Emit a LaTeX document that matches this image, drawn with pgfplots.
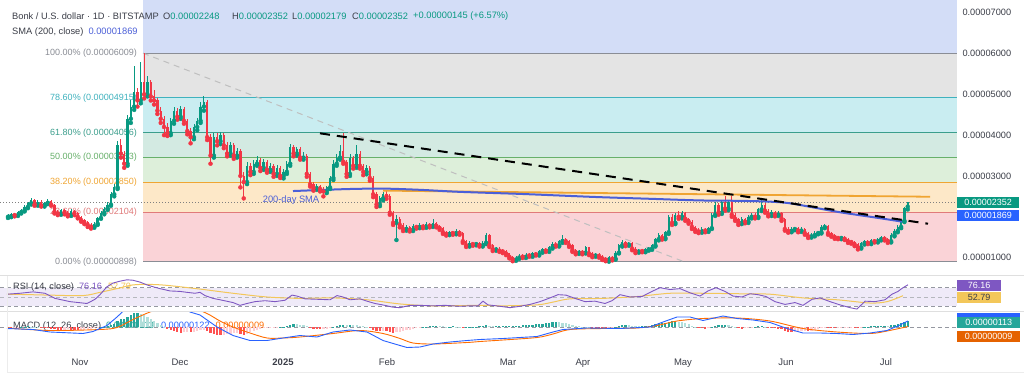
\documentclass[border=0pt]{standalone}
\usepackage{pgfplots}
\usepackage{pgfplotstable}
\pgfplotsset{compat=1.18}
\usepackage{fontspec}
\setmainfont{Liberation Sans}
\definecolor{upc}{HTML}{089981}
\definecolor{dnc}{HTML}{F23645}
\definecolor{fz0}{HTML}{D3DDF7}
\definecolor{fz1}{HTML}{E4E4E4}
\definecolor{fz2}{HTML}{C9EDF1}
\definecolor{fz3}{HTML}{D3EAE2}
\definecolor{fz4}{HTML}{DDEFDA}
\definecolor{fz5}{HTML}{FDE8C8}
\definecolor{fz6}{HTML}{FAD3D7}
\definecolor{fl100}{HTML}{8A8D95}
\definecolor{fl786}{HTML}{3FB2BE}
\definecolor{fl618}{HTML}{3B9E8C}
\definecolor{fl50}{HTML}{67B06A}
\definecolor{fl382}{HTML}{F0A532}
\definecolor{fl236}{HTML}{E07A7A}
\definecolor{smac}{HTML}{4B5FD8}
\definecolor{rsip}{HTML}{7E57C2}
\definecolor{rsiy}{HTML}{F3C75A}
\definecolor{rsiband}{HTML}{EFEAF8}
\definecolor{macdb}{HTML}{2962FF}
\definecolor{macdo}{HTML}{FF6D00}
\definecolor{h0}{HTML}{26A69A}
\definecolor{h1}{HTML}{B2DFDB}
\definecolor{h2}{HTML}{FF5252}
\definecolor{h3}{HTML}{FFCDD2}
\definecolor{txt}{HTML}{3B3E48}
\definecolor{gridg}{HTML}{9598A1}
\begin{document}
\pgfplotstableread{
i o h l c
0 2.00 2.06 1.97 2.02
1 2.02 2.10 1.99 2.07
2 2.07 2.10 2.01 2.04
3 2.04 2.14 2.02 2.11
4 2.11 2.20 2.08 2.16
5 2.16 2.28 2.13 2.24
6 2.24 2.37 2.21 2.33
7 2.33 2.45 2.30 2.41
8 2.41 2.44 2.27 2.30
9 2.30 2.40 2.27 2.37
10 2.37 2.40 2.25 2.28
11 2.28 2.37 2.25 2.34
12 2.34 2.44 2.31 2.39
13 2.39 2.42 2.27 2.30
14 2.30 2.32 2.08 2.12
15 2.12 2.16 2.04 2.08
16 2.08 2.20 2.05 2.17
17 2.17 2.20 2.06 2.10
18 2.10 2.14 2.01 2.05
19 2.05 2.18 2.02 2.14
20 2.14 2.17 2.04 2.08
21 2.08 2.11 1.96 2.00
22 2.00 2.03 1.88 1.92
23 1.92 1.95 1.82 1.86
24 1.86 1.89 1.75 1.80
25 1.80 1.84 1.71 1.76
26 1.76 1.86 1.73 1.83
27 1.83 2.00 1.80 1.97
28 1.97 2.14 1.95 2.10
29 2.10 2.24 2.06 2.20
30 2.20 2.35 2.17 2.30
31 2.30 2.60 2.27 2.55
32 2.55 2.80 2.50 2.72
33 2.72 3.85 2.68 3.75
34 3.75 3.90 3.45 3.55
35 3.55 3.62 3.20 3.30
36 3.30 4.50 3.25 4.40
37 4.40 4.85 4.30 4.70
38 4.70 5.70 4.62 5.05
39 5.05 5.15 4.70 4.85
40 4.85 5.80 4.78 5.30
41 5.30 6.009 4.90 5.00
42 5.00 5.45 4.95 5.30
43 5.30 5.35 4.85 4.95
44 4.95 5.10 4.75 4.85
45 4.85 4.92 4.52 4.60
46 4.60 4.70 4.30 4.40
47 4.40 4.48 4.00 4.20
48 4.20 4.30 3.98 4.05
49 4.05 4.42 4.00 4.35
50 4.35 4.70 4.28 4.60
51 4.60 4.66 4.38 4.45
52 4.45 4.72 4.40 4.65
53 4.65 4.70 4.28 4.35
54 4.35 4.40 4.02 4.10
55 4.10 4.18 3.80 3.95
56 3.95 4.28 3.90 4.20
57 4.20 4.42 4.12 4.35
58 4.35 4.80 4.30 4.70
59 4.70 4.95 4.60 4.80
60 4.80 4.85 3.88 3.95
61 3.95 4.02 3.30 3.50
62 3.50 4.05 3.45 3.95
63 3.95 4.05 3.75 3.85
64 3.85 4.08 3.78 4.00
65 4.00 4.05 3.68 3.75
66 3.75 3.82 3.48 3.55
67 3.55 3.82 3.50 3.75
68 3.75 3.80 3.42 3.50
69 3.50 3.68 3.45 3.60
70 3.60 3.65 2.72 3.00
71 3.00 3.10 2.45 2.85
72 2.85 3.35 2.80 3.25
73 3.25 3.32 3.02 3.10
74 3.10 3.38 3.05 3.30
75 3.30 3.48 3.25 3.40
76 3.40 3.45 3.12 3.20
77 3.20 3.42 3.15 3.35
78 3.35 3.40 3.08 3.15
79 3.15 3.32 3.10 3.25
80 3.25 3.30 2.98 3.05
81 3.05 3.26 3.00 3.20
82 3.20 3.25 2.95 3.00
83 3.00 3.16 2.94 3.10
84 3.10 3.36 3.05 3.30
85 3.30 3.78 3.25 3.70
86 3.70 3.75 3.48 3.55
87 3.55 3.72 3.50 3.65
88 3.65 3.70 3.40 3.45
89 3.45 3.58 3.40 3.50
90 3.50 3.55 2.98 3.05
91 3.05 3.10 2.74 2.80
92 2.80 2.86 2.64 2.70
93 2.70 2.80 2.66 2.75
94 2.75 2.78 2.62 2.68
95 2.68 2.72 2.50 2.62
96 2.62 2.76 2.58 2.72
97 2.72 3.00 2.68 2.95
98 2.95 3.38 2.90 3.30
99 3.30 3.55 3.25 3.45
100 3.45 3.75 3.40 3.60
101 3.60 4.05 3.30 3.35
102 3.35 3.40 2.98 3.05
103 3.05 3.55 3.00 3.45
104 3.45 3.50 3.18 3.25
105 3.25 3.75 3.20 3.55
106 3.55 3.60 3.18 3.25
107 3.25 3.30 3.02 3.10
108 3.10 3.26 3.04 3.20
109 3.20 3.24 2.88 2.95
110 2.95 3.00 2.48 2.55
111 2.55 2.60 2.24 2.30
112 2.30 2.50 2.26 2.45
113 2.45 2.60 2.40 2.55
114 2.55 2.63 2.44 2.50
115 2.50 2.55 2.05 2.10
116 2.10 2.15 1.80 1.85
117 1.85 2.05 1.43 1.95
118 1.95 2.00 1.74 1.80
119 1.80 1.84 1.65 1.70
120 1.70 1.79 1.66 1.75
121 1.75 1.78 1.64 1.68
122 1.68 1.82 1.65 1.78
123 1.78 1.81 1.71 1.75
124 1.75 1.84 1.72 1.80
125 1.80 1.83 1.72 1.76
126 1.76 1.86 1.73 1.82
127 1.82 1.85 1.74 1.78
128 1.78 1.95 1.75 1.85
129 1.85 1.88 1.74 1.78
130 1.78 1.81 1.68 1.72
131 1.72 1.75 1.58 1.62
132 1.62 1.66 1.54 1.58
133 1.58 1.66 1.55 1.62
134 1.62 1.65 1.56 1.60
135 1.60 1.69 1.57 1.65
136 1.65 1.68 1.56 1.60
137 1.60 1.63 1.36 1.40
138 1.40 1.44 1.26 1.30
139 1.30 1.40 1.27 1.36
140 1.36 1.39 1.29 1.33
141 1.33 1.38 1.30 1.35
142 1.35 1.37 1.27 1.30
143 1.30 1.40 1.27 1.36
144 1.36 1.60 1.33 1.55
145 1.55 1.57 1.26 1.30
146 1.30 1.33 1.16 1.20
147 1.20 1.26 1.17 1.22
148 1.22 1.25 1.14 1.17
149 1.17 1.20 1.11 1.15
150 1.15 1.18 1.06 1.10
151 1.10 1.12 0.98 1.02
152 1.02 1.05 0.91 0.95
153 0.95 1.03 0.92 1.00
154 1.00 1.08 0.97 1.05
155 1.05 1.08 0.99 1.02
156 1.02 1.10 0.99 1.07
157 1.07 1.10 1.02 1.05
158 1.05 1.13 1.02 1.10
159 1.10 1.13 1.05 1.08
160 1.08 1.18 1.05 1.15
161 1.15 1.24 1.12 1.20
162 1.20 1.23 1.14 1.17
163 1.17 1.29 1.14 1.25
164 1.25 1.37 1.22 1.33
165 1.33 1.37 1.27 1.30
166 1.30 1.44 1.27 1.40
167 1.40 1.55 1.36 1.45
168 1.45 1.48 1.36 1.40
169 1.40 1.43 1.26 1.30
170 1.30 1.33 1.14 1.18
171 1.18 1.22 1.08 1.12
172 1.12 1.19 1.09 1.15
173 1.15 1.18 1.08 1.12
174 1.12 1.29 1.10 1.25
175 1.25 1.27 1.06 1.10
176 1.10 1.13 1.01 1.05
177 1.05 1.12 1.02 1.08
178 1.08 1.11 1.00 1.04
179 1.04 1.07 0.94 0.98
180 0.98 1.01 0.91 0.95
181 0.95 1.05 0.90 1.02
182 1.02 1.05 0.93 0.97
183 0.97 1.15 0.95 1.12
184 1.12 1.34 1.10 1.30
185 1.30 1.42 1.27 1.38
186 1.38 1.41 1.28 1.32
187 1.32 1.39 1.29 1.35
188 1.35 1.37 1.18 1.22
189 1.22 1.25 1.11 1.15
190 1.15 1.22 1.12 1.18
191 1.18 1.21 1.13 1.16
192 1.16 1.24 1.13 1.20
193 1.20 1.26 1.17 1.22
194 1.22 1.34 1.19 1.30
195 1.30 1.49 1.27 1.45
196 1.45 1.60 1.42 1.55
197 1.55 1.58 1.44 1.48
198 1.48 1.66 1.45 1.62
199 1.62 2.05 1.58 2.00
200 2.00 2.06 1.80 1.85
201 1.85 2.10 1.82 2.05
202 2.05 2.15 1.95 2.00
203 2.00 2.13 1.96 2.08
204 2.08 2.11 1.90 1.95
205 1.95 1.98 1.83 1.88
206 1.88 1.91 1.70 1.75
207 1.75 1.78 1.63 1.68
208 1.68 1.72 1.60 1.64
209 1.64 1.74 1.61 1.70
210 1.70 1.73 1.62 1.66
211 1.66 1.76 1.63 1.72
212 1.72 2.10 1.70 2.05
213 2.05 2.36 2.02 2.30
214 2.30 2.33 2.05 2.10
215 2.10 2.40 2.07 2.35
216 2.35 2.52 2.15 2.20
217 2.20 2.42 2.16 2.35
218 2.35 2.50 2.00 2.05
219 2.05 2.09 1.90 1.95
220 1.95 1.98 1.80 1.85
221 1.85 1.99 1.82 1.95
222 1.95 1.98 1.84 1.88
223 1.88 2.04 1.85 2.00
224 2.00 2.09 1.96 2.05
225 2.05 2.08 1.96 2.00
226 2.00 2.22 1.97 2.18
227 2.18 2.46 2.14 2.30
228 2.30 2.33 2.10 2.15
229 2.15 2.18 2.01 2.05
230 2.05 2.16 2.02 2.12
231 2.12 2.15 2.01 2.05
232 2.05 2.14 2.02 2.10
233 2.10 2.12 1.90 1.95
234 1.95 1.98 1.66 1.70
235 1.70 1.74 1.61 1.65
236 1.65 1.74 1.62 1.70
237 1.70 1.76 1.67 1.72
238 1.72 1.75 1.62 1.66
239 1.66 1.74 1.63 1.70
240 1.70 1.72 1.56 1.60
241 1.60 1.63 1.48 1.52
242 1.52 1.59 1.49 1.55
243 1.55 1.64 1.52 1.60
244 1.60 1.66 1.57 1.62
245 1.62 1.79 1.59 1.75
246 1.75 1.83 1.72 1.78
247 1.78 1.80 1.56 1.60
248 1.60 1.63 1.51 1.55
249 1.55 1.58 1.46 1.50
250 1.50 1.53 1.45 1.48
251 1.48 1.54 1.45 1.50
252 1.50 1.53 1.43 1.46
253 1.46 1.49 1.36 1.40
254 1.40 1.43 1.34 1.38
255 1.38 1.41 1.28 1.32
256 1.32 1.35 1.20 1.25
257 1.25 1.38 1.22 1.35
258 1.35 1.44 1.32 1.40
259 1.40 1.43 1.33 1.36
260 1.36 1.46 1.33 1.42
261 1.42 1.45 1.37 1.40
262 1.40 1.49 1.37 1.45
263 1.45 1.54 1.42 1.50
264 1.50 1.53 1.42 1.46
265 1.46 1.49 1.36 1.40
266 1.40 1.59 1.37 1.55
267 1.55 1.70 1.52 1.65
268 1.65 1.80 1.62 1.75
269 1.75 1.95 1.72 1.90
270 1.90 2.25 1.87 2.207
271 2.248 2.352 2.179 2.352
}\candles
\pgfplotstableread{
i v k
0 -0.10 2
1 -0.15 2
2 -0.10 3
3 -0.05 3
4 0.05 0
5 0.10 0
6 0.15 0
7 0.10 1
8 0.05 1
9 0.02 1
10 -0.05 2
11 -0.10 2
12 -0.20 2
13 -0.30 2
14 -0.40 2
15 -0.50 2
16 -0.55 2
17 -0.50 3
18 -0.45 3
19 -0.50 2
20 -0.60 2
21 -0.65 2
22 -0.60 3
23 -0.50 3
24 -0.40 3
25 -0.30 3
26 -0.20 3
27 -0.10 3
28 0.02 0
29 0.10 0
30 0.20 0
31 0.40 0
32 0.70 0
33 1.30 0
34 1.60 0
35 1.60 0
36 2.10 0
37 2.50 0
38 2.80 0
39 2.90 0
40 2.70 1
41 2.40 1
42 2.10 1
43 1.70 1
44 1.30 1
45 0.90 1
46 0.50 1
47 0.10 1
48 -0.30 2
49 -0.60 2
50 -0.80 2
51 -1.00 2
52 -1.10 2
53 -1.05 3
54 -1.00 3
55 -1.05 2
56 -0.90 3
57 -0.80 3
58 -0.60 3
59 -0.50 3
60 -0.80 2
61 -1.20 2
62 -1.40 2
63 -1.50 2
64 -1.60 2
65 -1.50 3
66 -1.40 3
67 -1.30 3
68 -1.20 3
69 -1.10 3
70 -1.30 2
71 -1.50 2
72 -1.30 3
73 -1.00 3
74 -0.70 3
75 -0.50 3
76 -0.35 3
77 -0.25 3
78 -0.20 3
79 -0.15 3
80 -0.10 3
81 -0.05 3
82 0.02 0
83 0.10 0
84 0.30 0
85 0.50 0
86 0.60 0
87 0.55 1
88 0.50 1
89 0.40 1
90 0.20 1
91 -0.10 2
92 -0.30 2
93 -0.40 2
94 -0.45 2
95 -0.40 3
96 -0.35 3
97 -0.20 3
98 0.02 0
99 0.20 0
100 0.40 0
101 0.50 0
102 0.45 1
103 0.50 0
104 0.45 1
105 0.40 1
106 0.30 1
107 0.15 1
108 0.02 1
109 -0.20 2
110 -0.50 2
111 -0.70 2
112 -0.75 2
113 -0.70 3
114 -0.80 2
115 -1.00 2
116 -1.10 2
117 -1.00 3
118 -0.90 3
119 -0.80 3
120 -0.60 3
121 -0.50 3
122 -0.35 3
123 -0.20 3
124 -0.10 3
125 0.02 0
126 0.10 0
127 0.20 0
128 0.25 0
129 0.25 0
130 0.20 1
131 0.15 1
132 0.10 1
133 0.10 0
134 0.12 0
135 0.10 1
136 0.05 1
137 -0.05 2
138 0.02 0
139 0.05 0
140 0.10 0
141 0.10 0
142 0.15 0
143 0.25 0
144 0.35 0
145 0.20 1
146 0.15 1
147 0.15 0
148 0.15 0
149 0.15 0
150 0.20 0
151 0.20 0
152 0.20 0
153 0.25 0
154 0.30 0
155 0.35 0
156 0.40 0
157 0.45 0
158 0.50 0
159 0.55 0
160 0.60 0
161 0.70 0
162 0.80 0
163 0.90 0
164 1.00 0
165 1.00 0
166 0.95 1
167 0.90 1
168 0.80 1
169 0.60 1
170 0.40 1
171 0.25 1
172 0.15 1
173 0.10 1
174 0.05 1
175 0.02 1
176 -0.05 2
177 -0.10 2
178 -0.15 2
179 -0.20 2
180 -0.25 2
181 -0.20 3
182 -0.10 3
183 0.05 0
184 0.25 0
185 0.40 0
186 0.45 0
187 0.40 1
188 0.30 1
189 0.20 1
190 0.15 1
191 0.15 0
192 0.20 0
193 0.30 0
194 0.45 0
195 0.60 0
196 0.75 0
197 0.80 0
198 0.90 0
199 1.10 0
200 1.15 0
201 1.20 0
202 1.10 1
203 1.00 1
204 0.80 1
205 0.55 1
206 0.30 1
207 0.05 1
208 -0.15 2
209 -0.25 2
210 -0.30 2
211 -0.20 3
212 0.02 0
213 0.25 0
214 0.35 0
215 0.45 0
216 0.45 0
217 0.40 1
218 0.20 1
219 0.02 1
220 -0.20 2
221 -0.30 2
222 -0.25 3
223 -0.15 3
224 -0.05 3
225 0.05 0
226 0.15 0
227 0.20 0
228 0.10 1
229 -0.05 2
230 -0.15 2
231 -0.20 2
232 -0.30 2
233 -0.45 2
234 -0.70 2
235 -0.90 2
236 -1.00 2
237 -0.95 3
238 -0.90 3
239 -0.85 3
240 -0.80 3
241 -0.80 2
242 -0.70 3
243 -0.55 3
244 -0.40 3
245 -0.20 3
246 -0.10 3
247 -0.15 2
248 -0.20 2
249 -0.20 2
250 -0.15 3
251 -0.10 3
252 -0.10 3
253 -0.10 3
254 -0.10 3
255 -0.15 2
256 -0.15 2
257 -0.05 3
258 0.05 0
259 0.10 0
260 0.15 0
261 0.20 0
262 0.25 0
263 0.30 0
264 0.30 0
265 0.25 1
266 0.40 0
267 0.50 0
268 0.60 0
269 0.80 0
270 0.95 0
271 1.13 0
}\hist
\begin{tikzpicture}[x=1pt,y=1pt]
\path[use as bounding box] (0pt,0pt) rectangle (1024pt,-377pt);
\fill[white] (0pt,0pt) rectangle (1024pt,-377pt);
% ================= MAIN PRICE PANEL =================
\begin{axis}[at={(0pt,0pt)}, anchor=north west, scale only axis,
  width=957pt, height=268pt, xmin=0, xmax=957, ymin=0.744, ymax=7.312,
  axis line style={draw=none}, tick style={draw=none}, xtick=\empty,
  ytick={1,2,3,4,5,6,7},
  yticklabels={0.00001000,0.00002000,0.00003000,0.00004000,0.00005000,0.00006000,0.00007000},
  yticklabel pos=right,
  yticklabel style={font=\fontsize{9.2}{10}\selectfont, text=txt, anchor=west, xshift=2pt},
  clip=true]
% fib zones
\addplot[fill=fz0, draw=none] coordinates {(143,6.009) (957,6.009) (957,7.312) (143,7.312)} -- cycle;
\addplot[fill=fz1, draw=none] coordinates {(143,4.915) (957,4.915) (957,6.009) (143,6.009)} -- cycle;
\addplot[fill=fz2, draw=none] coordinates {(143,4.056) (957,4.056) (957,4.915) (143,4.915)} -- cycle;
\addplot[fill=fz3, draw=none] coordinates {(143,3.4535) (957,3.4535) (957,4.056) (143,4.056)} -- cycle;
\addplot[fill=fz4, draw=none] coordinates {(143,2.850) (957,2.850) (957,3.4535) (143,3.4535)} -- cycle;
\addplot[fill=fz5, draw=none] coordinates {(143,2.104) (957,2.104) (957,2.850) (143,2.850)} -- cycle;
\addplot[fill=fz6, draw=none] coordinates {(143,0.898) (957,0.898) (957,2.104) (143,2.104)} -- cycle;
% fib lines
\addplot[fl100, line width=1pt] coordinates {(143,6.009) (957,6.009)};
\addplot[fl786, line width=1pt] coordinates {(143,4.915) (957,4.915)};
\addplot[fl618, line width=1pt] coordinates {(143,4.056) (957,4.056)};
\addplot[fl50, line width=1pt] coordinates {(143,3.4535) (957,3.4535)};
\addplot[fl382, line width=1pt] coordinates {(143,2.850) (957,2.850)};
\addplot[fl236, line width=1pt] coordinates {(143,2.104) (957,2.104)};
\addplot[fl100, line width=1pt] coordinates {(143,0.898) (957,0.898)};
% fib labels
\begin{scope}[every node/.style={anchor=east, font=\fontsize{9}{10}\selectfont, inner sep=0pt}]
\node[text=fl100] at (axis cs:137,6.009) {100.00\% (0.00006009)};
\node[text=fl786] at (axis cs:137,4.915) {78.60\% (0.00004915)};
\node[text=fl618] at (axis cs:137,4.056) {61.80\% (0.00004056)};
\node[text=fl50] at (axis cs:137,3.4535) {50.00\% (0.00003453)};
\node[text=fl382] at (axis cs:137,2.850) {38.20\% (0.00002850)};
\node[text=fl236] at (axis cs:137,2.104) {23.60\% (0.00002104)};
\node[text=fl100] at (axis cs:137,0.898) {0.00\% (0.00000898)};
\end{scope}
% current price dotted line
\addplot[gray, line width=0.6pt, dash pattern=on 1pt off 2pt] coordinates {(0,2.352) (957,2.352)};
% fib trend diagonal
\addplot[gray!50, line width=1pt, dash pattern=on 6pt off 5pt] coordinates {(143,6.009) (684,0.898)};
% candles: wicks
\addplot[color=upc, only marks, mark=none,
  restrict expr to domain={\thisrow{c}-\thisrow{o}}{0:100},
  error bars/y dir=plus, error bars/y explicit, error bars/error mark=none,
  error bars/error bar style={line width=0.8pt}]
  table[x expr=8+3.32*\thisrow{i}, y=l, y error plus expr={\thisrow{h}-\thisrow{l}}] {\candles};
\addplot[color=dnc, only marks, mark=none,
  restrict expr to domain={\thisrow{o}-\thisrow{c}}{0.0001:100},
  error bars/y dir=plus, error bars/y explicit, error bars/error mark=none,
  error bars/error bar style={line width=0.8pt}]
  table[x expr=8+3.32*\thisrow{i}, y=l, y error plus expr={\thisrow{h}-\thisrow{l}}] {\candles};
% candles: bodies
\addplot[color=upc, only marks, mark=none,
  restrict expr to domain={\thisrow{c}-\thisrow{o}}{0:100},
  error bars/y dir=plus, error bars/y explicit, error bars/error mark=none,
  error bars/error bar style={line width=2.3pt}]
  table[x expr=8+3.32*\thisrow{i}, y expr={min(\thisrow{o},\thisrow{c})}, y error plus expr={max(abs(\thisrow{c}-\thisrow{o}),0.015)}] {\candles};
\addplot[color=dnc, only marks, mark=none,
  restrict expr to domain={\thisrow{o}-\thisrow{c}}{0.0001:100},
  error bars/y dir=plus, error bars/y explicit, error bars/error mark=none,
  error bars/error bar style={line width=2.3pt}]
  table[x expr=8+3.32*\thisrow{i}, y expr={min(\thisrow{o},\thisrow{c})}, y error plus expr={max(abs(\thisrow{c}-\thisrow{o}),0.015)}] {\candles};
% orange resistance line
\addplot[color=fl382, line width=1.8pt] coordinates {(383,2.64) (930,2.49)};
% 200-day SMA
\addplot[color=smac, line width=2pt, smooth] coordinates {
(293,2.63) (320,2.655) (350,2.68) (383,2.69) (420,2.66) (460,2.61) (520,2.56) (560,2.52)
(600,2.48) (650,2.44) (700,2.40) (740,2.39) (770,2.37) (790,2.33) (815,2.22) (840,2.11)
(873,1.99) (905,1.87)};
% black dashed trend line
\addplot[black, line width=2pt, dash pattern=on 10pt off 7pt] coordinates {(320,4.045) (928,1.829)};
\node[text=smac, font=\fontsize{9.3}{10}\selectfont] at (axis cs:291,2.40) {200-day SMA};
\end{axis}
% ================= RSI PANEL =================
\begin{axis}[at={(0pt,-276.3pt)}, anchor=north west, scale only axis,
  width=957pt, height=35pt, xmin=0, xmax=957, ymin=19.2, ymax=94.5,
  axis line style={draw=none}, xtick=\empty, ytick=\empty, clip=true]
\addplot[fill=rsiband, draw=none] coordinates {(0,30) (957,30) (957,70) (0,70)} -- cycle;
\addplot[gridg, line width=0.8pt, dash pattern=on 4pt off 3pt] coordinates {(0,70) (957,70)};
\addplot[gridg!70, line width=0.8pt, dash pattern=on 4pt off 3pt] coordinates {(0,50) (957,50)};
\addplot[gridg, line width=0.8pt, dash pattern=on 4pt off 3pt] coordinates {(0,30) (957,30)};
\node[anchor=west, inner sep=0pt, font=\fontsize{9.2}{10}\selectfont] at (axis cs:13,71.5)
  {{\color{txt}RSI (14, close)}\hspace{5pt}{\color{rsip}76.16}\hspace{6pt}{\color{rsiy}52.79}};
\addplot[color=rsiy, line width=1pt, smooth] coordinates {
(7,56) (30,55) (50,54) (83,53) (100,60) (117,68) (133,76) (150,77) (167,75) (200,67)
(233,58) (267,50) (300,47) (333,48) (367,44) (400,35) (433,31) (480,32) (503,31)
(537,33) (553,39) (570,46) (603,47) (637,51) (670,58) (703,58) (737,57) (770,56)
(803,48) (837,44) (870,37) (887,40) (903,52.79)};
\addplot[color=rsip, line width=0.9pt] coordinates {
(7,56) (20,58) (33,61) (45,58) (55,47) (70,40) (87,36) (95,45) (100,55) (107,72)
(113,80) (120,84) (127,87) (133,86) (140,82) (147,76) (153,72) (160,68) (170,63)
(180,62) (187,60) (195,58) (200,60) (205,53) (213,47) (220,44) (233,38) (240,32)
(247,36) (255,40) (265,42) (275,40) (285,43) (292,54) (297,52) (305,46) (318,45)
(330,44) (337,53) (343,50) (350,44) (360,46) (367,41) (375,36) (385,32) (393,28)
(400,27) (410,32) (420,32) (433,31) (445,32) (460,30) (470,31) (478,31) (483,41)
(488,33) (500,30) (510,27) (520,30) (530,34) (540,40) (550,48) (558,55) (566,54)
(575,47) (585,40) (595,41) (605,36) (612,42) (620,55) (630,50) (642,51) (652,62)
(660,70) (670,66) (680,68) (690,59) (700,52) (708,63) (716,70) (725,62) (733,52)
(742,50) (750,57) (758,55) (766,51) (775,40) (785,34) (795,38) (803,32) (812,45)
(820,48) (830,40) (840,33) (850,27) (857,24) (865,41) (875,40) (885,44) (892,56)
(898,62) (903,70) (908,76.16)};
\end{axis}
% ================= MACD PANEL =================
\begin{axis}[at={(0pt,-311.3pt)}, anchor=north west, scale only axis,
  width=957pt, height=38.7pt, xmin=0, xmax=957, ymin=-4.6, ymax=3.14,
  axis line style={draw=none}, tick style={draw=none}, ytick=\empty,
  xtick={80,180,283,387,508,583,683,786,886},
  xticklabels={Nov,Dec,\textbf{2025},Feb,Mar,Apr,May,Jun,Jul},
  xticklabel style={font=\fontsize{9.5}{10}\selectfont, text=txt, text height=7pt, text depth=0pt, anchor=center, yshift=-11.7pt},
  clip=true]
\addplot[gridg, line width=0.8pt, dash pattern=on 4pt off 3pt] coordinates {(0,0) (957,0)};
\node[anchor=west, inner sep=0pt, font=\fontsize{9.2}{10}\selectfont] at (axis cs:13,0.2)
  {{\color{txt}MACD (12, 26, close)}\hspace{5pt}{\color{h0}0.00000113}\hspace{7pt}{\color{macdb}0.00000122}\hspace{6pt}{\color{macdo}0.00000009}};
\addplot[ycomb, color=h0, line width=2.2pt, mark=none, restrict expr to domain={\thisrow{k}}{-0.5:0.5}]
  table[x expr=8+3.32*\thisrow{i}, y=v] {\hist};
\addplot[ycomb, color=h1, line width=2.2pt, mark=none, restrict expr to domain={\thisrow{k}}{0.5:1.5}]
  table[x expr=8+3.32*\thisrow{i}, y=v] {\hist};
\addplot[ycomb, color=h2, line width=2.2pt, mark=none, restrict expr to domain={\thisrow{k}}{1.5:2.5}]
  table[x expr=8+3.32*\thisrow{i}, y=v] {\hist};
\addplot[ycomb, color=h3, line width=2.2pt, mark=none, restrict expr to domain={\thisrow{k}}{2.5:3.5}]
  table[x expr=8+3.32*\thisrow{i}, y=v] {\hist};
\addplot[color=macdo, line width=0.9pt, smooth] coordinates {
(7,-0.2) (50,-0.7) (100,-0.5) (117,-0.1) (133,1.5) (150,3.0) (170,4.2) (190,4.0)
(207,2.7) (220,1.2) (233,0) (250,-1.2) (267,-2.2) (283,-2.2) (300,-2.0) (333,-1.3)
(360,-0.7) (383,-1.3) (400,-2.3) (413,-3.2) (433,-3.4) (467,-3.1) (480,-2.9)
(503,-2.6) (537,-2.1) (553,-1.4) (570,-0.5) (603,-0.3) (637,-0.2) (657,0.3)
(677,1.2) (703,1.7) (737,1.8) (770,1.2) (803,-0.3) (837,-1.0) (870,-1.3) (887,-0.8) (908,0.09)};
\addplot[color=macdb, line width=0.9pt] coordinates {
(7,-0.3) (33,-0.5) (50,-1.0) (83,-1.3) (93,-0.9) (107,0.3) (117,2.0) (125,3.5)
(140,5.0) (160,5.5) (180,4.5) (190,3.0) (200,2.4) (217,0) (233,-1.7) (250,-2.7)
(267,-2.7) (283,-2.2) (300,-1.7) (317,-2.0) (333,-1.0) (350,-0.6) (367,-1.0)
(383,-2.7) (400,-3.7) (407,-4.1) (420,-4.0) (433,-3.4) (450,-3.0) (467,-2.7)
(480,-2.5) (503,-2.3) (537,-1.9) (553,-1.0) (563,-0.5) (587,-0.2) (620,-0.3)
(650,0) (663,1.0) (677,2.0) (690,2.0) (703,1.3) (723,2.2) (737,1.7) (753,1.4)
(770,0.9) (787,-0.3) (803,-1.2) (820,-1.2) (837,-1.3) (853,-1.5) (870,-1.2)
(887,-0.7) (900,0.4) (908,1.22)};
\end{axis}
% ================= separators, frame, legends, price tags =================
\draw[gray!25, line width=0.8pt] (0pt,-275pt) -- (1024pt,-275pt);
\draw[gray!25, line width=0.8pt] (0pt,-311.5pt) -- (1024pt,-311.5pt);
\draw[gray!15, line width=0.8pt] (7pt,-372.5pt) -- (1024pt,-372.5pt);
\draw[gray!15, line width=0.8pt] (7pt,-276pt) -- (7pt,-372.5pt);
\node[anchor=west, inner sep=0pt, font=\fontsize{9.3}{10}\selectfont, text=txt] at (12pt,-16pt) {Bonk / U.S. dollar · 1D · BITSTAMP};
\begin{scope}[every node/.style={anchor=west, inner sep=0pt, font=\fontsize{9.3}{10}\selectfont}]
\node at (163pt,-16pt) {{\color{txt}O}{\color{upc}0.00002248}};
\node at (232pt,-16pt) {{\color{txt}H}{\color{upc}0.00002352}};
\node at (292pt,-16pt) {{\color{txt}L}{\color{upc}0.00002179}};
\node at (352pt,-16pt) {{\color{txt}C}{\color{upc}0.00002352}};
\node at (413pt,-16pt) {{\color{upc}+0.00000145 (+6.57\%)}};
\node at (12pt,-32pt) {{\color{txt}SMA (200, close)}\hspace{5pt}{\color{smac}0.00001869}};
\end{scope}
\begin{scope}[every node/.style={anchor=west, inner sep=0pt, minimum height=11pt, font=\fontsize{9}{10}\selectfont, text=white}]
\node[fill=upc, minimum width=62pt] at (957pt,-202.5pt) {0.00002352};
\node[fill=macdb, minimum width=62pt] at (957pt,-215pt) {0.00001869};
\node[fill=rsip, minimum width=44pt] at (957pt,-285.5pt) {76.16};
\node[fill=rsiy, minimum width=44pt, text=txt] at (957pt,-297.7pt) {52.79};
\node[fill=macdb, minimum width=63pt] at (957pt,-318.5pt) {};
\node[fill=h0, minimum width=63pt] at (957pt,-322.5pt) {0.00000113};
\node[fill=macdo!90!black, minimum width=63pt] at (957pt,-336pt) {0.00000009};
\end{scope}
\end{tikzpicture}
\end{document}
